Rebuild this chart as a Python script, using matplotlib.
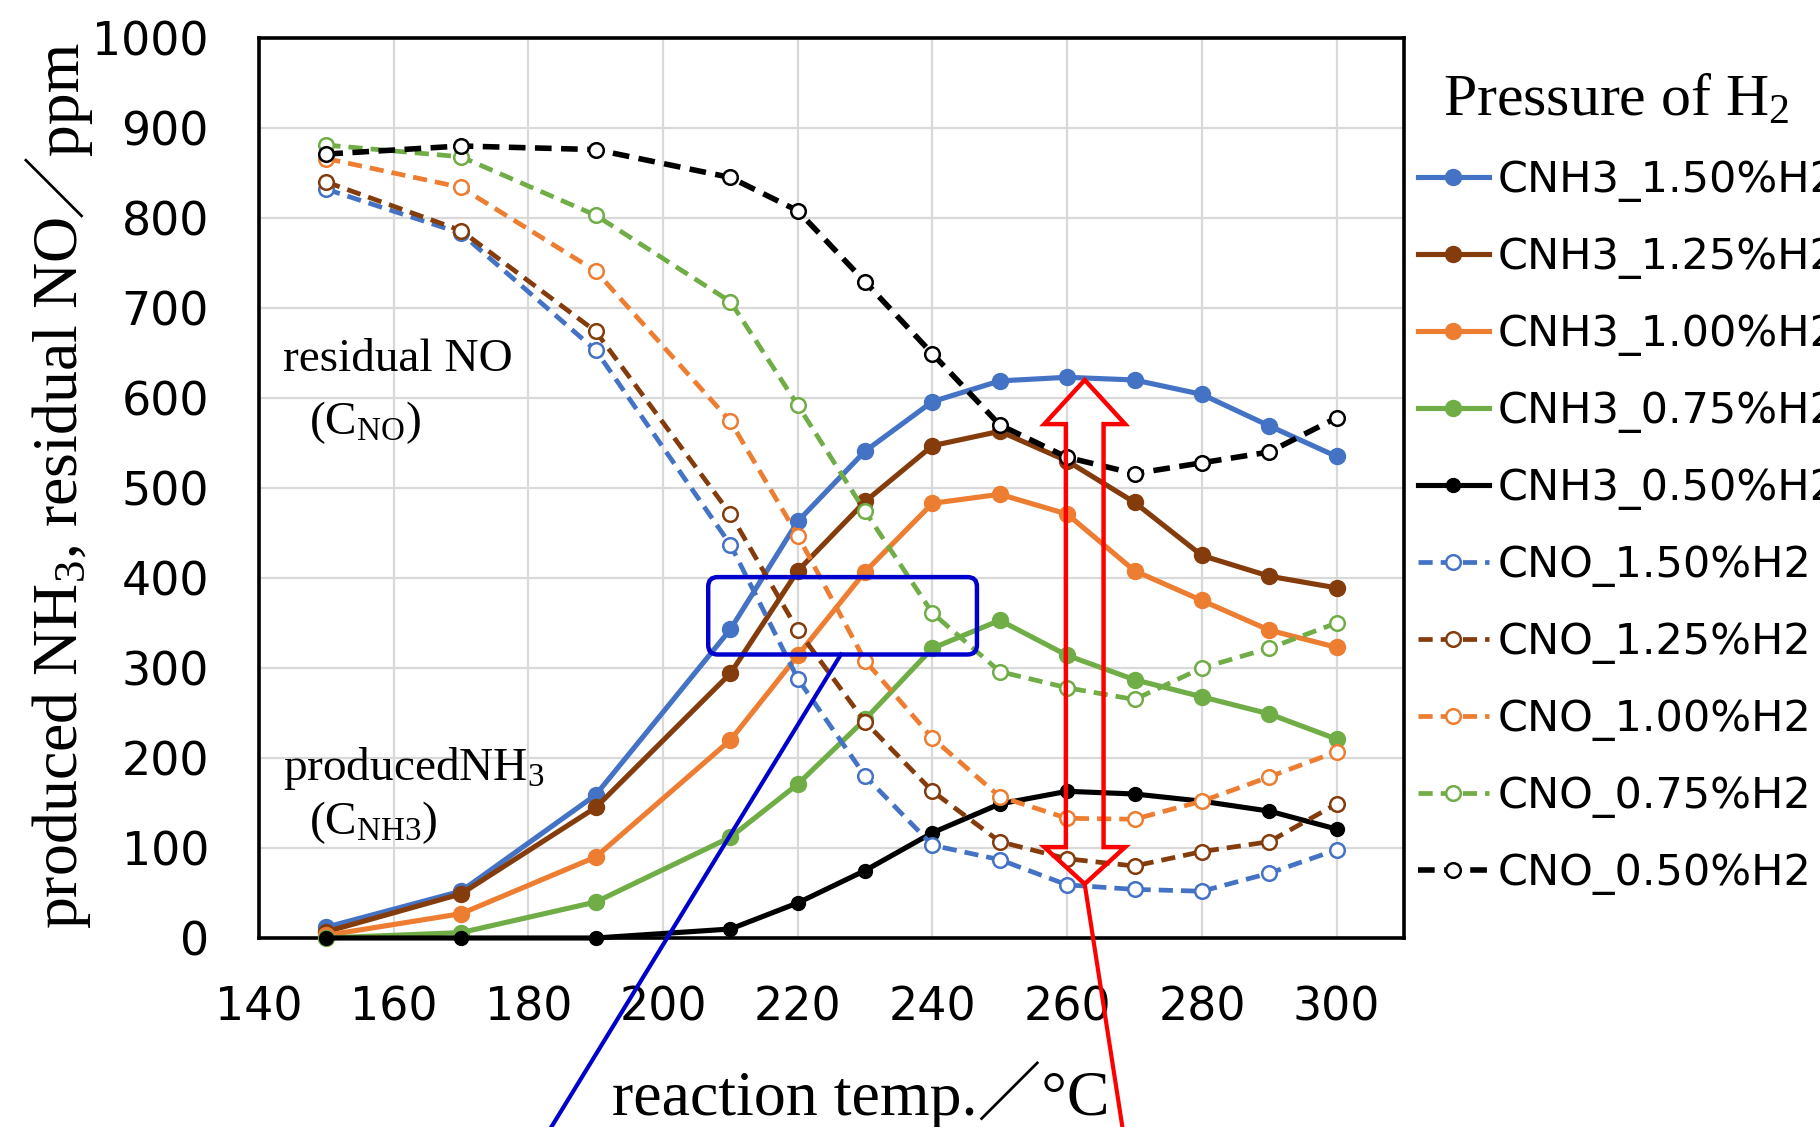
import matplotlib
matplotlib.use('Agg')
import matplotlib.pyplot as plt
from matplotlib.patches import FancyBboxPatch, Polygon
from matplotlib.transforms import IdentityTransform

plt.rcParams['mathtext.fontset'] = 'custom'
plt.rcParams['mathtext.rm'] = 'Liberation Serif'
plt.rcParams['mathtext.it'] = 'Liberation Serif:italic'
plt.rcParams['font.family'] = ['DejaVu Sans']

SERIF = ['Liberation Serif', 'Noto Sans CJK JP']

# reaction temperature (deg C)
temps = [150, 170, 190, 210, 220, 230, 240, 250, 260, 270, 280, 290, 300]

# produced NH3 (ppm)
nh3_150 = [12, 52, 159, 343, 463, 541, 596, 619, 623, 620, 604, 569, 535]
nh3_125 = [7, 49, 145, 294, 408, 485, 547, 563, 530, 484, 425, 402, 389]
nh3_100 = [3, 27, 90, 220, 314, 407, 483, 493, 471, 408, 375, 342, 323]
nh3_075 = [0, 6, 40, 112, 171, 243, 322, 353, 314, 287, 268, 249, 221]
nh3_050 = [0, 0, 0, 10, 39, 75, 117, 149, 163, 160, 152, 141, 121]

# residual NO (ppm)
no_150 = [832, 783, 653, 437, 288, 180, 103, 87, 59, 54, 52, 72, 98]
no_125 = [840, 786, 674, 471, 342, 240, 163, 107, 88, 80, 96, 107, 149]
no_100 = [866, 834, 741, 574, 447, 308, 222, 157, 133, 132, 152, 179, 207]
no_075 = [881, 868, 803, 707, 592, 474, 361, 296, 278, 265, 300, 322, 350]
no_050 = [871, 880, 876, 845, 808, 729, 649, 570, 534, 516, 528, 540, 578]

h2_labels = ['1.50', '1.25', '1.00', '0.75', '0.50']
colors = ['#4472C4', '#843C0C', '#ED7D31', '#70AD47', '#000000']
nh3_series = [nh3_150, nh3_125, nh3_100, nh3_075, nh3_050]
no_series = [no_150, no_125, no_100, no_075, no_050]

fig = plt.figure(figsize=(18.2, 11.27), dpi=100)
ax = fig.add_axes([0.1423, 0.1677, 0.6291, 0.7986])

for vals, c, lab in zip(nh3_series, colors, h2_labels):
    ms = 10 if c == '#000000' else 11.5
    ax.plot(temps, vals, color=c, lw=3.7, marker='o', ms=ms, mfc=c, mec=c,
            label='CNH3_' + lab + '%H2', zorder=3, clip_on=False)

for vals, c, lab in zip(no_series, colors, h2_labels):
    lw = 4.0 if c == '#000000' else 3.4
    ax.plot(temps, vals, color=c, lw=lw, ls=(0, (3.0, 1.7)), marker='o', ms=10.5,
            mfc='white', mec=c, mew=1.8, label='CNO_' + lab + '%H2', zorder=3, clip_on=False)

ax.set_xlim(140, 310)
ax.set_ylim(0, 1000)
ax.set_xticks(range(140, 301, 20))
ax.set_yticks(range(0, 1001, 100))
ax.grid(True, color='#D9D9D9', lw=1.6)
ax.set_axisbelow(True)
ax.tick_params(length=0, labelsize=33)
ax.tick_params(axis='y', pad=36)
ax.tick_params(axis='x', pad=34)
for s in ax.spines.values():
    s.set_linewidth(2.6)
    s.set_color('black')

ax.set_xlabel('reaction temp.／°C', family=SERIF, fontsize=46)
ax.xaxis.set_label_coords(0.526, -0.137)

# labels inside the plot
ax.text(143.5, 630, 'residual NO', family=SERIF, fontsize=34)
ax.text(147.5, 560, '(C$_{\\mathrm{NO}}$)', family=SERIF, fontsize=34)
ax.text(143.5, 176, 'producedNH$_3$', family=SERIF, fontsize=34)
ax.text(147.5, 115, '(C$_{\\mathrm{NH3}}$)', family=SERIF, fontsize=34)

# blue highlight box and pointer line
box_x0, box_x1, box_y0, box_y1 = 206.7, 246.6, 315, 401
ax.add_patch(FancyBboxPatch((box_x0, box_y0), box_x1 - box_x0, box_y1 - box_y0,
                            boxstyle='round,pad=0,rounding_size=1.4', mutation_aspect=7.47,
                            fill=False, ec='#0000CC', lw=3.2, zorder=5))
ax.plot([226.4, 183.0], [box_y0, -215], color='#0000CC', lw=3.0, clip_on=False, zorder=5)

# red hollow double arrow and pointer line
cx, shaft_hw, head_hw = 262.6, 2.8, 6.0
tip_top, base_top, base_bot, tip_bot = 620, 571, 101, 60
arrow_pts = [
    (cx, tip_top), (cx + head_hw, base_top), (cx + shaft_hw, base_top),
    (cx + shaft_hw, base_bot), (cx + head_hw, base_bot), (cx, tip_bot),
    (cx - head_hw, base_bot), (cx - shaft_hw, base_bot), (cx - shaft_hw, base_top),
    (cx - head_hw, base_top),
]
ax.add_patch(Polygon(arrow_pts, closed=True, fill=False, ec='#FF0000', lw=3.2,
                     joinstyle='miter', zorder=6))
ax.plot([cx, 268.3], [tip_bot, -215], color='#FF0000', lw=3.0, clip_on=False, zorder=6)

leg = ax.legend(loc='upper left', bbox_to_anchor=(0.779, 0.859), bbox_transform=fig.transFigure,
                frameon=False, fontsize=31, handlelength=1.65, handletextpad=0.2,
                labelspacing=0.79, borderpad=0, borderaxespad=0)

fig.text(0.793, 0.897, 'Pressure of H$_2$', family=SERIF, fontsize=43)

# y label in two pieces so the full-width slash can use the CJK font
ylab_kw = dict(rotation=90, rotation_mode='anchor', ha='left', va='baseline',
               family=SERIF, fontsize=46, transform=IdentityTransform())
t1 = fig.text(0, 0, 'produced NH$_3$, residual NO', **ylab_kw)
fig.canvas.draw()
bb = t1.get_window_extent()
dx = 30 - bb.x0
dy = 198 - bb.y0
t1.set_position((dx, dy))
fig.text(dx, bb.y1 + dy, '／ppm', **ylab_kw)

fig.savefig('out.png', dpi=100)
